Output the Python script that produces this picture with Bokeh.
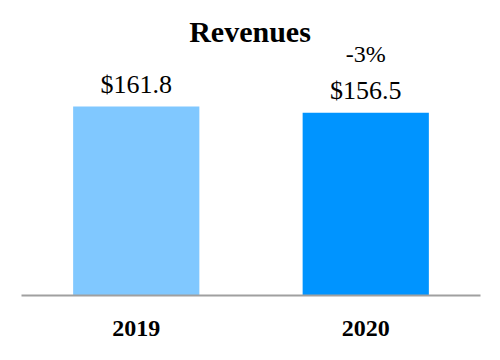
from bokeh.plotting import figure
from bokeh.models import ColumnDataSource, FactorRange, Range1d, Label
from bokeh.core.properties import value
from bokeh.embed import file_html
from bokeh.resources import INLINE

years = ["2019", "2020"]
revenues = [161.8, 156.5]
value_labels = ["$161.8", "$156.5"]
change_years = ["2020"]
change_values = [156.5]
change_labels = ["-3%"]
colors = ["#80C8FF", "#0094FF"]

src = ColumnDataSource(dict(x=years, top=revenues, lab=value_labels, color=colors))
chg = ColumnDataSource(dict(x=change_years, y=change_values, lab=change_labels))

p = figure(width=484, height=344, output_backend="svg", toolbar_location=None,
           x_range=FactorRange(factors=years, range_padding=0),
           y_range=Range1d(0, 252.5), y_axis_location=None,
           min_border_left=21, min_border_right=4, min_border_top=0,
           min_border_bottom=49, outline_line_color=None,
           background_fill_color="white", border_fill_color="white")

p.vbar(x="x", top="top", width=0.55, color="color", line_color=None, source=src)

p.text(x="x", y="top", text="lab", source=src, text_align="center",
       text_baseline="alphabetic", y_offset=-22,
       text_font=value("Liberation Serif"), text_font_size="26px",
       text_color="black")
p.text(x="x", y="y", text="lab", source=chg, text_align="center",
       text_baseline="alphabetic", y_offset=-59,
       text_font=value("Liberation Serif"), text_font_size="24px",
       text_color="black")

title = Label(x=228.5, y=264, x_units="screen", y_units="screen", text="Revenues",
              text_align="center", text_baseline="alphabetic",
              text_font="Liberation Serif", text_font_style="bold",
              text_font_size="30px", text_color="black")
p.add_layout(title)

p.xgrid.visible = False
p.ygrid.visible = False
ax = p.xaxis[0]
ax.axis_line_color = "#A0A0A0"
ax.axis_line_width = 2
ax.major_tick_line_color = None
ax.minor_tick_line_color = None
ax.major_tick_out = 0
ax.major_tick_in = 0
ax.major_label_standoff = 25
ax.major_label_text_font = "Liberation Serif"
ax.major_label_text_font_style = "bold"
ax.major_label_text_font_size = "24px"
ax.major_label_text_color = "black"

open("out.html", "w").write(file_html(p, INLINE))
